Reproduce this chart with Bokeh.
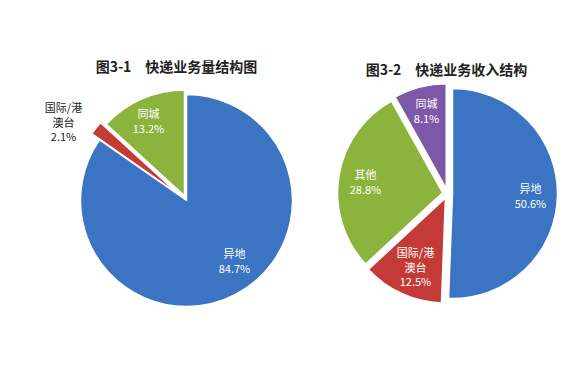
import math
from bokeh.plotting import figure
from bokeh.models import Range1d
from bokeh.core.properties import value
from bokeh.embed import file_html
from bokeh.resources import INLINE

# ---- data ----
vol_title = "图3-1　快递业务量结构图"
vol_cats = ["异地", "国际/港澳台", "同城"]
vol_vals = [84.7, 2.1, 13.2]

rev_title = "图3-2　快递业务收入结构"
rev_cats = ["异地", "国际/港澳台", "其他", "同城"]
rev_vals = [50.6, 12.5, 28.8, 8.1]

# ---- style / layout ----
W, H = 561, 357
FONT = "Noto Sans CJK SC"
BLUE, RED, GREEN, PURPLE = "#3A74C2", "#C43A37", "#8CB33C", "#7D58A8"

vol_style = dict(center=(178, 165), r=106, colors=[BLUE, RED, GREEN],
                 explode=[0, 10, 5],
                 label_off=[(48, -60), (-123, 79), (-38, 80)],
                 label_col=["white", "#222222", "white"],
                 title_pos=(168, 300))
rev_style = dict(center=(439, 172), r=105, colors=[BLUE, RED, GREEN, PURPLE],
                 explode=[5, 5, 5, 5],
                 label_off=[(83, -2), (-32, -73), (-82, 12), (-21, 83)],
                 label_col=["white", "white", "white", "white"],
                 title_pos=(438, 297))

p = figure(width=W, height=H, x_range=Range1d(-8, W - 8), y_range=Range1d(8, H + 8),
           output_backend="svg", toolbar_location=None, min_border=0)
p.axis.visible = False
p.grid.visible = False
p.outline_line_color = None
p.background_fill_color = "white"
p.border_fill_color = "white"


def wrap(s, n=4):
    return [s[i:i + n] for i in range(0, len(s), n)]


def draw_pie(cats, vals, st, title):
    cx, cy = st["center"]
    total = sum(vals)
    cum = 0.0
    xs, ys, sa, ea = [], [], [], []
    for v, e in zip(vals, st["explode"]):
        a0 = math.pi / 2 - 2 * math.pi * cum / total
        cum += v
        a1 = math.pi / 2 - 2 * math.pi * cum / total
        mid = (a0 + a1) / 2
        xs.append(cx + e * math.cos(mid))
        ys.append(cy + e * math.sin(mid))
        sa.append(a0)
        ea.append(a1)
    p.wedge(x=xs, y=ys, radius=st["r"], start_angle=sa, end_angle=ea,
            direction="clock", fill_color=st["colors"], line_color="white",
            line_width=1.5)
    tx, ty, tt, tc = [], [], [], []
    for c, v, (dx, dy), col in zip(cats, vals, st["label_off"], st["label_col"]):
        lines = wrap(c) + [f"{v:.1f}%"]
        n = len(lines)
        step = 15 if n == 2 else 14.5
        for i, ln in enumerate(lines):
            tx.append(cx + dx)
            ty.append(cy + dy + step * ((n - 1) / 2 - i))
            tt.append(ln)
            tc.append(col)
    p.text(x=tx, y=ty, text=tt, text_color=tc, text_align="center",
           text_baseline="middle", text_font=value(FONT),
           text_font_size="11px")
    p.text(x=[st["title_pos"][0]], y=[st["title_pos"][1]], text=[title],
           text_color="#222222", text_align="center", text_baseline="middle",
           text_font=value(FONT), text_font_size="14px", text_font_style="bold")


draw_pie(vol_cats, vol_vals, vol_style, vol_title)
draw_pie(rev_cats, rev_vals, rev_style, rev_title)

open("out.html", "w").write(file_html(p, INLINE))
